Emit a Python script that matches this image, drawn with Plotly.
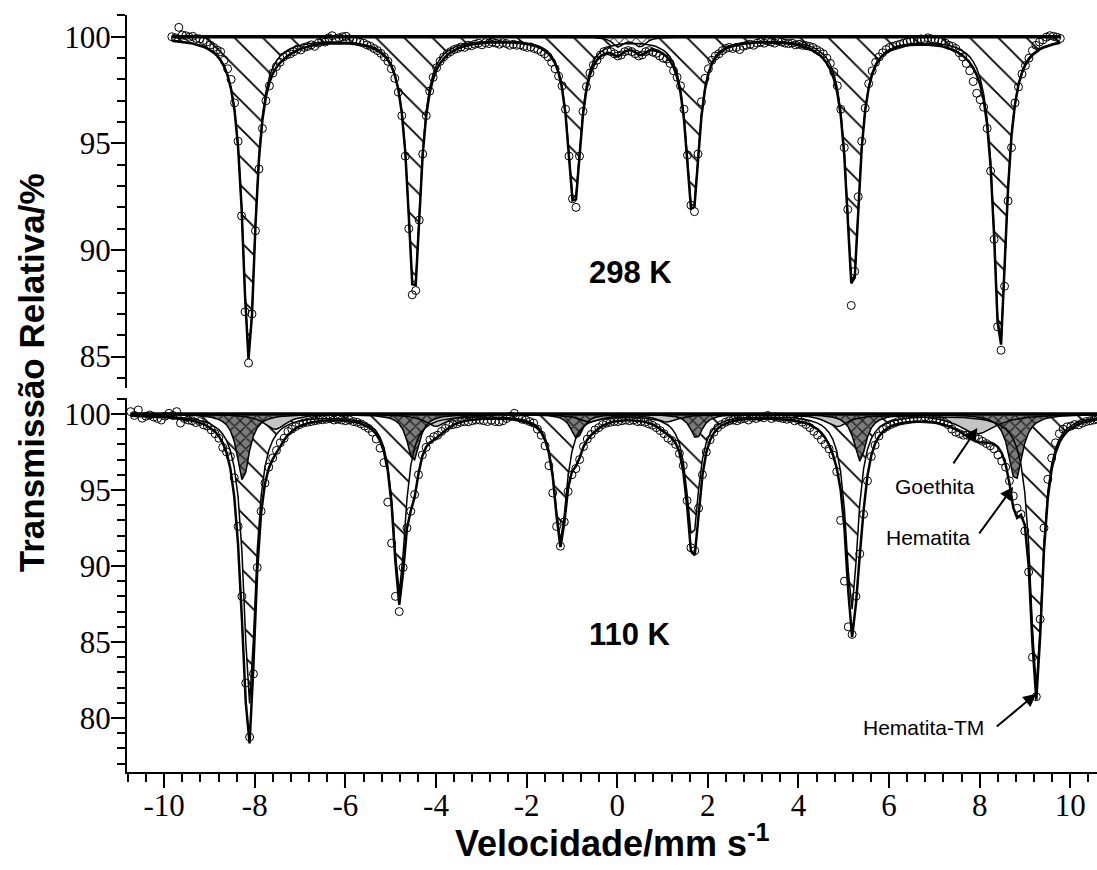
import numpy as np
import plotly.graph_objects as go

# Channel velocity scales (mm/s) of the two folded spectra (256 channels each)
vel_298 = np.linspace(-9.83, 9.78, 256)
vel_110 = np.linspace(-10.74, 10.86, 256)

# Measured relative transmission (%), 298 K
trans_298 = [
    100.0, 99.95, 100.44, 100.08, 100.05, 99.98, 100.02, 99.92, 99.9, 99.82, 99.75, 99.61, 99.5, 99.38, 99.3, 98.9,
    98.5, 98.0, 96.9, 95.1, 91.6, 87.1, 84.7, 87.0, 90.9, 93.8, 95.7, 97.0, 97.7, 98.3, 98.6, 98.8,
    99.05, 99.15, 99.2, 99.3, 99.42, 99.38, 99.5, 99.55, 99.62, 99.55, 99.7, 99.85, 99.75, 99.95, 100.05, 99.9,
    99.95, 100.0, 100.02, 99.9, 99.85, 99.8, 99.75, 99.7, 99.62, 99.55, 99.45, 99.35, 99.22, 99.05, 98.85, 98.5,
    98.05, 97.4, 96.3, 94.4, 91.0, 87.9, 88.1, 91.4, 94.5, 96.3, 97.45, 98.1, 98.55, 98.85, 99.05, 99.2,
    99.3, 99.4, 99.45, 99.52, 99.5, 99.6, 99.58, 99.65, 99.7, 99.62, 99.72, 99.68, 99.75, 99.7, 99.65, 99.72,
    99.68, 99.6, 99.65, 99.6, 99.62, 99.55, 99.5, 99.52, 99.45, 99.4, 99.3, 99.2, 99.05, 98.8, 98.5, 98.15,
    97.7, 96.6, 94.4, 92.4, 92.0, 94.4, 96.5, 97.66, 98.3, 98.67, 98.9, 99.14, 99.3, 99.35, 99.3, 99.2,
    99.1, 99.15, 99.3, 99.35, 99.3, 99.2, 99.1, 99.15, 99.3, 99.35, 99.28, 99.22, 99.1, 99.0, 98.95, 98.75,
    98.4, 98.1, 97.7, 96.6, 94.45, 92.1, 91.8, 94.5, 96.95, 98.05, 98.5, 98.9, 99.1, 99.2, 99.35, 99.45,
    99.5, 99.45, 99.5, 99.4, 99.55, 99.6, 99.65, 99.6, 99.7, 99.75, 99.7, 99.8, 99.75, 99.7, 99.8, 99.75,
    99.7, 99.68, 99.7, 99.62, 99.65, 99.6, 99.58, 99.55, 99.5, 99.4, 99.3, 99.2, 99.0, 98.75, 98.35, 97.7,
    96.6, 94.8, 91.9, 87.4, 89.0, 92.5, 95.1, 96.65, 97.8, 98.4, 98.8, 99.05, 99.25, 99.4, 99.5, 99.55,
    99.6, 99.65, 99.7, 99.75, 99.8, 99.85, 99.8, 99.9, 99.85, 99.95, 99.9, 99.88, 99.85, 99.8, 99.7, 99.6,
    99.55, 99.45, 99.25, 99.05, 98.75, 98.4, 97.9, 97.35, 97.05, 96.7, 95.7, 93.7, 90.5, 86.4, 85.3, 88.3,
    92.3, 94.8, 96.9, 97.65, 98.25, 98.65, 99.0, 99.35, 99.6, 99.75, 99.85, 99.98, 100.05, 100.02, 99.98, 99.92,
]

# Measured relative transmission (%), 110 K
trans_110 = [
    100.15, 99.9, 100.26, 99.72, 99.85, 99.93, 99.8, 99.7, 99.6, 99.85, 100.04, 99.9, 100.15, 99.4, 99.7, 99.6,
    99.55, 99.43, 99.5, 99.28, 99.2, 98.95, 98.7, 98.4, 97.8, 97.5, 97.2, 95.8, 92.6, 88.0, 82.3, 78.75,
    82.9, 89.9, 93.6, 95.45, 96.5, 97.1, 97.6, 98.1, 98.4, 98.85, 99.0, 99.17, 99.3, 99.4, 99.45, 99.5,
    99.55, 99.6, 99.62, 99.65, 99.7, 99.6, 99.65, 99.6, 99.55, 99.6, 99.5, 99.45, 99.35, 99.2, 99.05, 98.8,
    98.35, 97.75, 96.8, 94.2, 91.5, 88.0, 87.0, 89.9, 92.5, 93.6, 94.7, 96.0, 97.3, 97.8, 98.3, 98.5,
    98.6, 98.85, 99.05, 99.25, 99.3, 99.35, 99.45, 99.5, 99.48, 99.55, 99.6, 99.6, 99.55, 99.5, 99.58, 99.5,
    99.48, 99.55, 99.7, 99.85, 100.04, 99.8, 99.65, 99.6, 99.5, 99.4, 99.0, 98.6, 97.9, 96.6, 94.8, 92.6,
    91.3, 92.9, 94.9, 96.0, 96.4, 97.0, 97.85, 98.35, 98.65, 98.95, 99.1, 99.3, 99.4, 99.45, 99.5, 99.5,
    99.55, 99.6, 99.55, 99.6, 99.5, 99.5, 99.45, 99.35, 99.25, 99.1, 98.9, 98.7, 98.4, 98.25, 98.0, 97.4,
    96.6, 94.3, 91.2, 91.0, 93.8, 96.0, 97.5, 98.3, 98.8, 99.1, 99.3, 99.45, 99.55, 99.6, 99.55, 99.65,
    99.7, 99.6, 99.75, 99.7, 99.8, 99.75, 99.9, 99.7, 99.8, 99.75, 99.7, 99.65, 99.7, 99.55, 99.6, 99.45,
    99.3, 99.1, 98.85, 98.6, 98.3, 98.0, 97.7, 97.3, 96.2, 93.0, 89.0, 86.0, 85.5, 88.0, 90.8, 93.4,
    95.6, 97.2, 97.95, 98.55, 99.0, 99.15, 99.3, 99.4, 99.5, 99.55, 99.6, 99.65, 99.7, 99.75, 99.7, 99.8,
    99.75, 99.7, 99.65, 99.55, 99.45, 99.3, 99.0, 98.8, 98.7, 98.6, 98.6, 98.55, 98.5, 98.35, 98.2, 98.05,
    97.9, 97.7, 97.3, 96.9, 96.5, 95.6, 94.6, 93.8, 93.4, 92.3, 89.6, 84.0, 81.4, 86.5, 92.5, 95.7,
    97.1, 98.1, 98.7, 99.0, 99.15, 99.2, 99.3, 99.28, 99.4, 99.5, 99.55, 99.6, 99.65, 99.7, 99.75, 99.8,
]

# Fitted subspectra: line positions (mm/s), line depths (%), full widths (mm/s)
hem_298_pos = [-8.13, -4.485, -0.95, 1.665, 5.20, 8.45]
hem_298_depth = [15.0, 12.0, 7.8, 8.2, 11.8, 14.5]
hem_298_width = [0.34, 0.34, 0.34, 0.34, 0.34, 0.34]

goe_298_pos = [-7.45, -4.05, -0.65, 1.35, 4.75, 7.95]
goe_298_depth = [0.30, 0.22, 0.15, 0.15, 0.22, 0.30]
goe_298_width = [1.0, 1.0, 1.0, 1.0, 1.0, 1.0]

dbl_298_pos = [0.02, 0.51]
dbl_298_depth = [0.45, 0.45]
dbl_298_width = [0.30, 0.30]

hemtm_110_pos = [-8.115, -4.81, -1.25, 1.665, 5.18, 9.25]
hemtm_110_depth = [19.0, 11.7, 8.3, 8.2, 12.8, 18.0]
hemtm_110_width = [0.32, 0.32, 0.32, 0.32, 0.32, 0.32]

hem_110_pos = [-8.26, -4.50, -0.89, 1.75, 5.36, 8.79]
hem_110_depth = [4.4, 3.1, 1.6, 1.6, 3.1, 4.4]
hem_110_width = [0.32, 0.32, 0.32, 0.32, 0.32, 0.36]

goe_110_pos = [-7.55, -4.00, -0.60, 1.10, 4.85, 7.95]
goe_110_depth = [1.0, 0.8, 0.5, 0.5, 0.8, 1.3]
goe_110_width = [0.6, 0.6, 0.6, 0.6, 0.6, 1.0]

# Axis tick positions and their printed labels
x_ticks = [-10, -8, -6, -4, -2, 0, 2, 4, 6, 8, 10]
x_tick_labels = ["-10", "-8", "-6", "-4", "-2", "0", "2", "4", "6", "8", "10"]


def absorption(v, pos, depth, width):
    """Sum of Lorentzian absorption lines."""
    v = np.asarray(v, dtype=float)
    out = np.zeros_like(v)
    for p, d, w in zip(pos, depth, width):
        out += d / (1.0 + ((v - p) / (0.5 * w)) ** 2)
    return out


a_hem_298 = absorption(vel_298, hem_298_pos, hem_298_depth, hem_298_width)
a_goe_298 = absorption(vel_298, goe_298_pos, goe_298_depth, goe_298_width)
a_dbl_298 = absorption(vel_298, dbl_298_pos, dbl_298_depth, dbl_298_width)
fit_298 = 100.0 - (a_hem_298 + a_goe_298 + a_dbl_298)

a_tm_110 = absorption(vel_110, hemtm_110_pos, hemtm_110_depth, hemtm_110_width)
a_hem_110 = absorption(vel_110, hem_110_pos, hem_110_depth, hem_110_width)
a_goe_110 = absorption(vel_110, goe_110_pos, goe_110_depth, goe_110_width)
fit_110 = 100.0 - (a_tm_110 + a_hem_110 + a_goe_110)

BLACK = "#000000"
HATCH = dict(shape="\\", size=20, solidity=0.09, fgcolor=BLACK, bgcolor="white", fillmode="replace")
CROSS_DARK = dict(shape="x", size=8, solidity=0.28, fgcolor="#1a1a1a", bgcolor="#7c7c7c", fillmode="replace")
CROSS_LIGHT = dict(shape="x", size=8, solidity=0.22, fgcolor=BLACK, bgcolor="white", fillmode="replace")
LIGHT_GRAY = "#c4c4c4"


def area(v, absorb):
    x = np.concatenate([v, v[::-1]])
    y = np.concatenate([100.0 - absorb, np.full(len(v), 100.0)])
    return x, y


fig = go.Figure()


def add_area(v, absorb, yaxis, pattern=None, color=None):
    x, y = area(v, absorb)
    kw = dict(x=x, y=y, mode="none", fill="toself", hoverinfo="skip",
              showlegend=False, yaxis=yaxis, xaxis="x")
    if pattern is not None:
        kw["fillpattern"] = pattern
        kw["fillcolor"] = pattern["bgcolor"]
    else:
        kw["fillcolor"] = color
    fig.add_trace(go.Scatter(**kw))


def add_line(v, y, yaxis, width):
    fig.add_trace(go.Scatter(x=v, y=y, mode="lines", yaxis=yaxis, xaxis="x",
                             line=dict(color=BLACK, width=width),
                             hoverinfo="skip", showlegend=False))


# ---- 298 K panel (upper) ----
add_area(vel_298, a_goe_298, "y2", color=LIGHT_GRAY)
add_area(vel_298, a_hem_298, "y2", pattern=HATCH)
add_area(vel_298, a_dbl_298, "y2", pattern=CROSS_LIGHT)
for a in (a_hem_298, a_dbl_298):
    add_line(vel_298, 100.0 - a, "y2", 1.5)
add_line([vel_298[0], vel_298[-1]], [100, 100], "y2", 3.5)
fig.add_trace(go.Scatter(x=vel_298, y=trans_298, mode="markers", yaxis="y2", xaxis="x",
                         marker=dict(symbol="circle-open", size=8, color=BLACK, line=dict(width=1)),
                         hoverinfo="skip", showlegend=False))
add_line(vel_298, fit_298, "y2", 2.5)

# ---- 110 K panel (lower) ----
add_area(vel_110, a_tm_110, "y", pattern=HATCH)
add_area(vel_110, a_goe_110, "y", color=LIGHT_GRAY)
add_area(vel_110, a_hem_110, "y", pattern=CROSS_DARK)
for a in (a_tm_110, a_goe_110, a_hem_110):
    add_line(vel_110, 100.0 - a, "y", 1.5)
add_line([vel_110[0], vel_110[-1]], [100, 100], "y", 3.5)
fig.add_trace(go.Scatter(x=vel_110, y=trans_110, mode="markers", yaxis="y", xaxis="x",
                         marker=dict(symbol="circle-open", size=8, color=BLACK, line=dict(width=1)),
                         hoverinfo="skip", showlegend=False))
add_line(vel_110, fit_110, "y", 2.5)

TICK_FONT = dict(family="Liberation Serif, Times New Roman, serif", size=31, color=BLACK)
SANS = "Liberation Sans, Arial, sans-serif"
x_range = [-10.82, 10.59]

axis_common = dict(showline=True, linecolor=BLACK, linewidth=2, showgrid=False, zeroline=False,
                   ticks="outside", tickcolor=BLACK, tickwidth=2, ticklen=14, tickfont=TICK_FONT)

fig.update_layout(
    width=1097, height=870,
    margin=dict(l=127, r=0, t=15, b=98),
    paper_bgcolor="white", plot_bgcolor="white",
    showlegend=False,
    xaxis=dict(domain=[0, 1], range=x_range, anchor="y", tickmode="array",
               tickvals=x_ticks, ticktext=x_tick_labels,
               minor=dict(dtick=0.4, tick0=0, ticks="outside", ticklen=8, tickwidth=2, tickcolor=BLACK),
               ticklabelstandoff=-9, **axis_common),
    xaxis2=dict(domain=[0, 1], range=x_range, anchor="y2", side="top", overlaying="x",
                showline=True, linecolor=BLACK, linewidth=2, showgrid=False, zeroline=False,
                ticks="inside", ticklen=4, tickwidth=1.5, tickcolor=BLACK, dtick=0.4, tick0=0,
                showticklabels=False),
    yaxis=dict(domain=[0, 0.4941], range=[76.45, 101.05], anchor="x", dtick=5, tick0=0,
               minor=dict(dtick=1, tick0=0, ticks="outside", ticklen=8, tickwidth=2, tickcolor=BLACK),
               ticklabelstandoff=-6, **axis_common),
    yaxis2=dict(domain=[0.5073, 1], range=[83.53, 101.02], anchor="x", dtick=5, tick0=0,
                minor=dict(dtick=1, tick0=0, ticks="outside", ticklen=8, tickwidth=2, tickcolor=BLACK),
                ticklabelstandoff=-6, **axis_common),
)

annotations = [
    dict(text="<b>Transmissão Relativa/%</b>", xref="paper", yref="paper", x=-0.099, y=0.528,
         textangle=-90, showarrow=False, xanchor="center", yanchor="middle",
         font=dict(family=SANS, size=35, color=BLACK)),
    dict(text="<b>Velocidade/mm s<sup>-1</sup></b>", xref="paper", yref="paper", x=0.5, y=-0.091,
         showarrow=False, xanchor="center", yanchor="middle",
         font=dict(family=SANS, size=36, color=BLACK)),
    dict(text="<b>298 K</b>", xref="x", yref="y2", x=0.29, y=88.95, showarrow=False,
         font=dict(family=SANS, size=31, color=BLACK)),
    dict(text="<b>110 K</b>", xref="x", yref="y", x=0.29, y=85.5, showarrow=False,
         font=dict(family=SANS, size=31, color=BLACK)),
    dict(text="Goethita", xref="x", yref="y", x=7.02, y=95.2, showarrow=False,
         font=dict(family=SANS, size=21, color=BLACK)),
    dict(text="Hematita", xref="x", yref="y", x=6.87, y=91.9, showarrow=False,
         font=dict(family=SANS, size=21, color=BLACK)),
    dict(text="Hematita-TM", xref="x", yref="y", x=6.75, y=79.4, showarrow=False,
         font=dict(family=SANS, size=21, color=BLACK)),
]
# arrows pointing at the labelled subspectra
for tip_x, tip_y, dx, dy in [(7.95, 99.08, -25, 37), (8.74, 95.2, -35, 48), (9.25, 81.6, -41, 34)]:
    annotations.append(dict(text="", xref="x", yref="y", x=tip_x, y=tip_y, ax=dx, ay=dy,
                            showarrow=True, arrowhead=2, arrowsize=1.3, arrowwidth=2,
                            arrowcolor=BLACK))
fig.update_layout(annotations=annotations)

fig.write_html("out.html")
